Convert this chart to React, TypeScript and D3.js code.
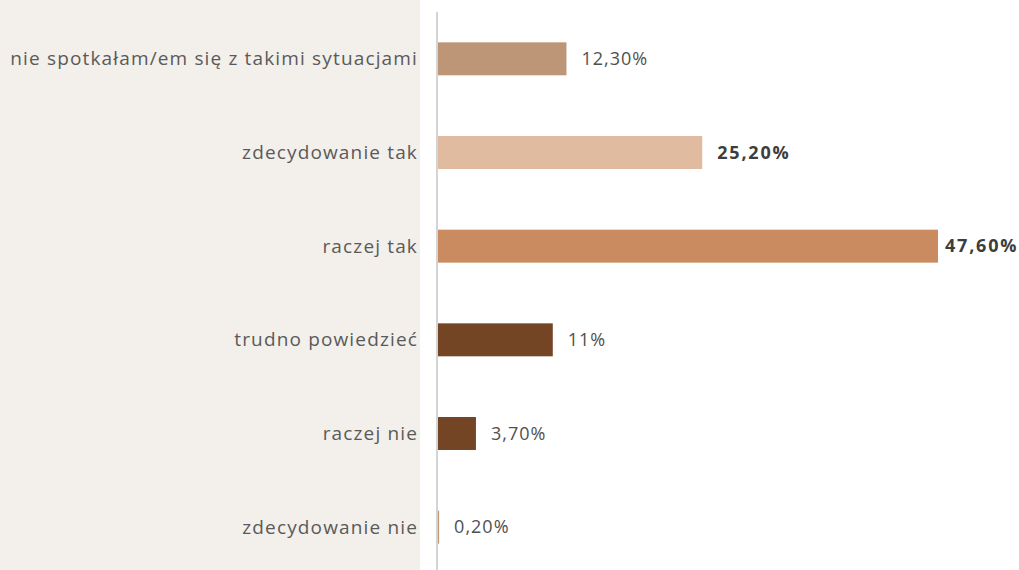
import React, { useEffect, useRef } from 'react';
import * as d3 from 'd3';

const categories = [
  'nie spotkałam/em się z takimi sytuacjami',
  'zdecydowanie tak',
  'raczej tak',
  'trudno powiedzieć',
  'raczej nie',
  'zdecydowanie nie',
];
const values = [12.3, 25.2, 47.6, 11, 3.7, 0.2];
const valueLabels = ['12,30%', '25,20%', '47,60%', '11%', '3,70%', '0,20%'];
const boldLabels = [false, true, true, false, false, false];
const barColors = ['#bd9677', '#e0bb9f', '#cb8b61', '#734524', '#734524', '#bd9677'];

const App = () => {
  const ref = useRef<SVGSVGElement | null>(null);

  useEffect(() => {
    const width = 1019;
    const height = 570;
    const axisX = 437;
    const font = '"Open Sans", Lato, sans-serif';

    const svg = d3.select(ref.current);
    svg.selectAll('*').remove();

    // left panel
    svg.append('rect')
      .attr('x', 0).attr('y', 0)
      .attr('width', 420).attr('height', height)
      .attr('fill', '#f3efea');

    const x = d3.scaleLinear().domain([0, 47.6]).range([axisX, 938]);
    const y = d3.scaleBand<string>()
      .domain(categories)
      .range([12, 574])
      .paddingInner(0.648)
      .paddingOuter(0.324);

    svg.append('g')
      .selectAll('rect')
      .data(values)
      .join('rect')
      .attr('x', axisX)
      .attr('y', (d, i) => y(categories[i]) as number)
      .attr('width', d => x(d) - axisX)
      .attr('height', y.bandwidth())
      .attr('fill', (d, i) => barColors[i]);

    // axis line
    svg.append('line')
      .attr('x1', axisX).attr('x2', axisX)
      .attr('y1', 12).attr('y2', height)
      .attr('stroke', '#d4d4d4')
      .attr('stroke-width', 2);

    // category labels
    svg.append('g')
      .selectAll('text')
      .data(categories)
      .join('text')
      .attr('x', 418)
      .attr('y', d => (y(d) as number) + y.bandwidth() / 2)
      .attr('dy', '0.35em')
      .attr('text-anchor', 'end')
      .attr('font-family', font)
      .attr('font-size', 19)
      .attr('letter-spacing', 1.15)
      .attr('fill', '#5a5a5a')
      .text(d => d);

    // value labels
    svg.append('g')
      .selectAll('text')
      .data(values)
      .join('text')
      .attr('x', (d, i) => Math.min(x(d) + 15, width - 74))
      .attr('y', (d, i) => (y(categories[i]) as number) + y.bandwidth() / 2)
      .attr('dy', '0.35em')
      .attr('font-family', font)
      .attr('font-size', 18)
      .attr('font-weight', (d, i) => (boldLabels[i] ? 700 : 400))
      .attr('letter-spacing', (d, i) => (boldLabels[i] ? 1.8 : 1))
      .attr('fill', (d, i) => (boldLabels[i] ? '#3d3d3d' : '#505050'))
      .text((d, i) => valueLabels[i]);
  }, []);

  return (
    <svg
      ref={ref}
      width={1019}
      height={570}
      style={{ position: 'absolute', top: 0, left: 0, background: '#fff' }}
    />
  );
};

export default App;
